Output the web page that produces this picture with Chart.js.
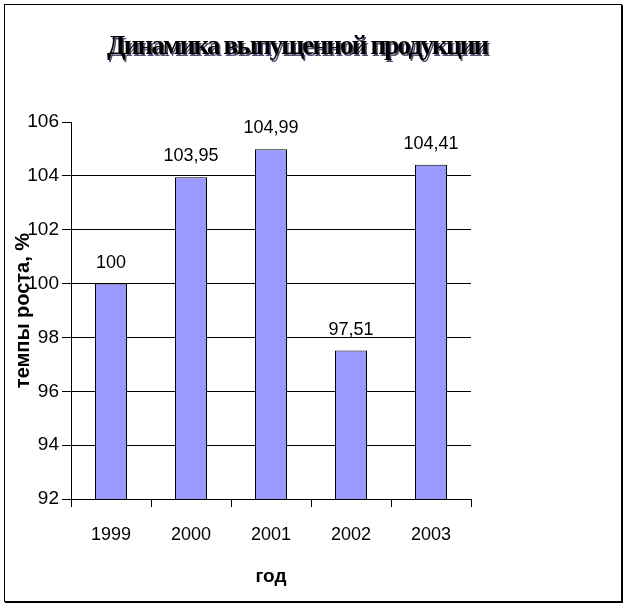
<!DOCTYPE html>
<html>
<head>
<meta charset="utf-8">
<script src="https://cdn.jsdelivr.net/npm/chart.js@4"></script>
<style>
  html, body { margin: 0; padding: 0; background: #fff; }
  #wrap { position: relative; width: 627px; height: 608px; }
  #frame {
    position: absolute; left: 4px; top: 4px; width: 616px; height: 596px;
    border: 1px solid #000; box-shadow: 1px 1px 0 #000; pointer-events: none;
  }
</style>
</head>
<body>
<div id="wrap">
  <canvas id="chart" width="627" height="608"></canvas>
  <div id="frame"></div>
</div>
<script>
// Динамика выпущенной продукции
const years = ['1999', '2000', '2001', '2002', '2003'];
const growth = [100, 103.95, 104.99, 97.51, 104.41];
const labelsText = ['100', '103,95', '104,99', '97,51', '104,41'];
const titleText = 'Динамика выпущенной продукции';

// подписи над столбцами
const valueLabels = {
  id: 'valueLabels',
  afterDatasetsDraw(chart) {
    const ctx = chart.ctx;
    const meta = chart.getDatasetMeta(0);
    ctx.save();
    ctx.font = '18px "Liberation Sans", Arial, sans-serif';
    ctx.fillStyle = '#000';
    ctx.textAlign = 'center';
    ctx.textBaseline = 'bottom';
    meta.data.forEach((bar, i) => {
      ctx.fillText(labelsText[i], bar.x, bar.y - 12);
    });
    ctx.restore();
  }
};

// заголовок с тенью, сжатый
const bigTitle = {
  id: 'bigTitle',
  afterDraw(chart) {
    const ctx = chart.ctx;
    ctx.save();
    ctx.font = 'bold 27px "Liberation Serif", "Times New Roman", serif';
    ctx.textBaseline = 'alphabetic';
    ctx.textAlign = 'left';
    const target = 382;
    const w = ctx.measureText(titleText).width;
    const ls = (target - w) / (titleText.length - 1);
    ctx.letterSpacing = ls + 'px';
    const x = 298 - target / 2;
    ctx.fillStyle = '#505070';
    ctx.fillText(titleText, x + 1.5, 55.5);
    ctx.fillStyle = '#000';
    ctx.fillText(titleText, x, 54);
    ctx.restore();
  }
};

const ctx = document.getElementById('chart').getContext('2d');
new Chart(ctx, {
  type: 'bar',
  data: {
    labels: years,
    datasets: [{
      data: growth,
      backgroundColor: '#9999FF',
      borderColor: '#000',
      borderWidth: 1,
      barPercentage: 0.4,
      categoryPercentage: 1
    }]
  },
  options: {
    responsive: false,
    animation: false,
    layout: { padding: { left: 0, top: 122, right: 156, bottom: 0 } },
    plugins: {
      legend: { display: false },
      tooltip: { enabled: false }
    },
    scales: {
      y: {
        min: 92,
        max: 106,
        afterFit: (scale) => { scale.width = 71; },
        ticks: {
          stepSize: 2,
          color: '#000',
          padding: 3,
          font: { family: '"Liberation Sans", Arial, sans-serif', size: 19 }
        },
        grid: {
          color: (c) => c.tick && c.tick.value === 106 ? 'rgba(0,0,0,0)' : '#000',
          tickColor: '#000',
          tickLength: 9,
          lineWidth: 1
        },
        border: { display: true, color: '#000' },
        title: {
          display: true,
          text: 'темпы роста, %',
          color: '#000',
          padding: { top: 11, bottom: 0 },
          font: { family: '"Liberation Sans", Arial, sans-serif', size: 20, weight: 'bold' }
        }
      },
      x: {
        afterFit: (scale) => { scale.height = 109; },
        ticks: {
          color: '#000',
          padding: 17,
          font: { family: '"Liberation Sans", Arial, sans-serif', size: 18 }
        },
        grid: {
          offset: true,
          drawOnChartArea: false,
          tickColor: '#000',
          tickLength: 8
        },
        border: { display: true, color: '#000' },
        title: {
          display: true,
          text: 'год',
          color: '#000',
          padding: { top: 0, bottom: 20 },
          font: { family: '"Liberation Sans", Arial, sans-serif', size: 19, weight: 'bold' }
        }
      }
    }
  },
  plugins: [valueLabels, bigTitle]
});
</script>
</body>
</html>
